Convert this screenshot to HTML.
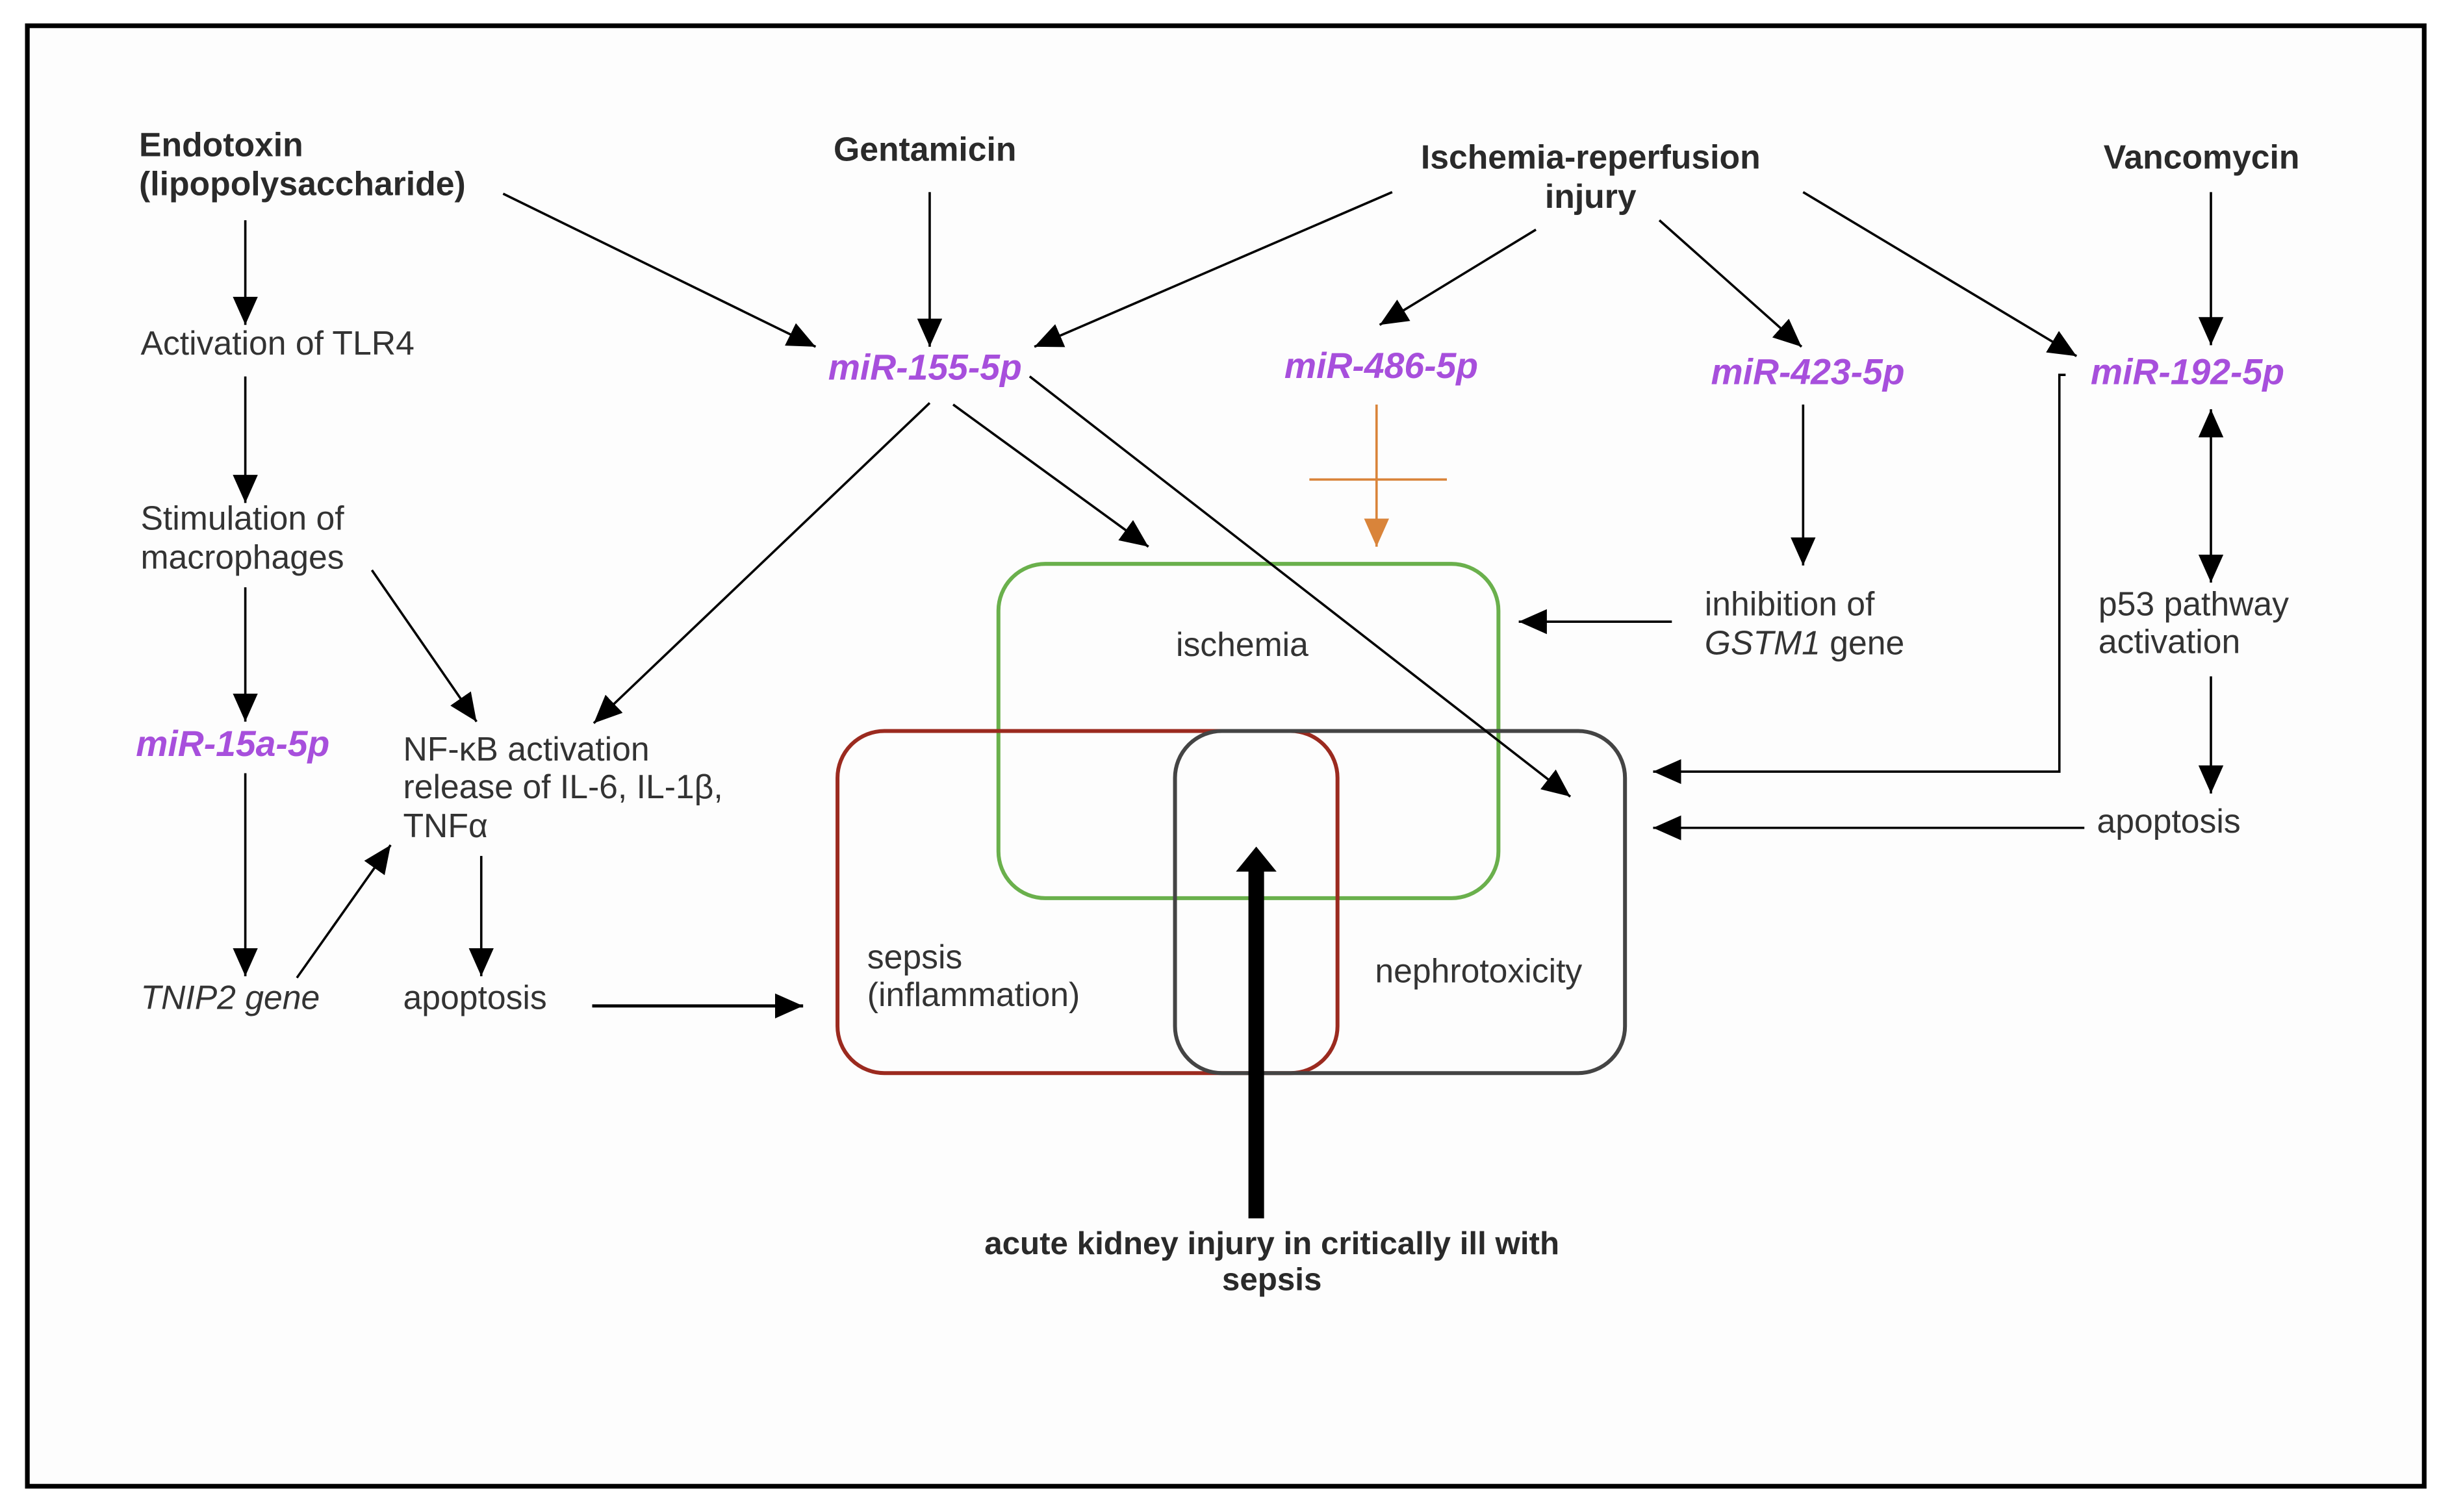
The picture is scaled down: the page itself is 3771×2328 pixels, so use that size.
<!DOCTYPE html>
<html><head><meta charset="utf-8"><style>
html,body{margin:0;padding:0;background:#fff;}
svg{display:block;}
text{font-family:"Liberation Sans",sans-serif;fill:#333;font-size:21.5px;}
.b{font-weight:bold;fill:#2a2a2a;font-size:21.5px;}
.m{font-weight:bold;font-style:italic;fill:#a74fdc;font-size:23px;}
.i{font-style:italic;}
</style></head><body>
<svg width="3771" height="2328" viewBox="0 0 1568 968" xmlns="http://www.w3.org/2000/svg">
<defs>
<marker id="a" markerUnits="userSpaceOnUse" markerWidth="20" markerHeight="16" refX="18" refY="8" orient="auto"><path d="M0,0 L18,8 L0,16 Z" fill="#000"/></marker>
<marker id="as" markerUnits="userSpaceOnUse" markerWidth="20" markerHeight="16" refX="0" refY="8" orient="auto"><path d="M18,0 L0,8 L18,16 Z" fill="#000"/></marker>
<marker id="o" markerUnits="userSpaceOnUse" markerWidth="20" markerHeight="16" refX="18" refY="8" orient="auto"><path d="M0,0 L18,8 L0,16 Z" fill="#d9843a"/></marker>
<marker id="big" markerUnits="userSpaceOnUse" markerWidth="30" markerHeight="30" refX="2" refY="13" orient="auto"><path d="M0,0 L16,13 L0,26 Z" fill="#000"/></marker>
</defs>
<rect x="0" y="0" width="1568" height="968" fill="#fff"/>
<rect x="17.5" y="16.5" width="1534" height="935" fill="#fdfdfd" stroke="#000" stroke-width="3"/>

<rect x="639" y="361" width="320" height="214" rx="30" fill="none" stroke="#6ab04c" stroke-width="2.5"/>
<rect x="536" y="468" width="320" height="219" rx="30" fill="none" stroke="#9b2a1f" stroke-width="2.5"/>
<rect x="752" y="468" width="288" height="219" rx="30" fill="none" stroke="#444" stroke-width="2.5"/>

<g stroke="#000" stroke-width="1.5" fill="none" marker-end="url(#a)">
<line x1="157" y1="141" x2="157" y2="208"/>
<line x1="157" y1="241" x2="157" y2="322"/>
<line x1="157" y1="376" x2="157" y2="462"/>
<line x1="157" y1="495" x2="157" y2="625"/>
<line x1="190" y1="626" x2="250" y2="541"/>
<line x1="238" y1="365" x2="305" y2="462"/>
<line x1="322" y1="124" x2="522" y2="222"/>
<line x1="595" y1="123" x2="595" y2="222"/>
<line x1="891" y1="123" x2="662" y2="222"/>
<line x1="595" y1="258" x2="380" y2="463"/>
<line x1="610" y1="259" x2="735" y2="350"/>
<line x1="659" y1="241" x2="1005" y2="510"/>
<line x1="983" y1="147" x2="883" y2="208"/>
<line x1="1062" y1="141" x2="1153" y2="222"/>
<line x1="1154" y1="123" x2="1329" y2="228"/>
<line x1="1415" y1="123" x2="1415" y2="221"/>
<line x1="1154" y1="259" x2="1154" y2="362"/>
<line x1="1070" y1="398" x2="972" y2="398"/>
<line x1="1415" y1="262" x2="1415" y2="373" marker-start="url(#as)" />
<line x1="1415" y1="433" x2="1415" y2="508"/>
<line x1="1334" y1="530" x2="1058" y2="530"/>
<polyline points="1322,240 1318,240 1318,494 1058,494"/>
<line x1="308" y1="548" x2="308" y2="625"/>
<line x1="379" y1="644" x2="514" y2="644" stroke-width="2"/>
</g>

<line x1="881" y1="259" x2="881" y2="350" stroke="#d9843a" stroke-width="1.5" marker-end="url(#o)"/>
<line x1="838" y1="307" x2="926" y2="307" stroke="#d9843a" stroke-width="1.5"/>

<line x1="804" y1="780" x2="804" y2="556" stroke="#000" stroke-width="10" marker-end="url(#big)"/>

<text x="89" y="100" class="b">Endotoxin</text>
<text x="89" y="125" class="b">(lipopolysaccharide)</text>
<text x="592" y="103" class="b" text-anchor="middle">Gentamicin</text>
<text x="1018" y="108" class="b" text-anchor="middle">Ischemia-reperfusion</text>
<text x="1018" y="133" class="b" text-anchor="middle">injury</text>
<text x="1409" y="108" class="b" text-anchor="middle">Vancomycin</text>

<text x="90" y="227">Activation of TLR4</text>
<text x="90" y="339">Stimulation of</text>
<text x="90" y="364">macrophages</text>
<text x="87" y="484" class="m">miR-15a-5p</text>
<text x="90" y="646" class="i">TNIP2 gene</text>
<text x="258" y="487">NF-κB activation</text>
<text x="258" y="511">release of IL-6, IL-1β,</text>
<text x="258" y="536">TNFα</text>
<text x="258" y="646">apoptosis</text>

<text x="592" y="243" class="m" text-anchor="middle">miR-155-5p</text>
<text x="884" y="242" class="m" text-anchor="middle">miR-486-5p</text>
<text x="1157" y="246" class="m" text-anchor="middle">miR-423-5p</text>
<text x="1400" y="246" class="m" text-anchor="middle">miR-192-5p</text>

<text x="1091" y="394">inhibition of</text>
<text x="1091" y="419"><tspan class="i">GSTM1</tspan> gene</text>
<text x="1343" y="394">p53 pathway</text>
<text x="1343" y="418">activation</text>
<text x="1342" y="533">apoptosis</text>

<text x="795" y="420" text-anchor="middle">ischemia</text>
<text x="555" y="620">sepsis</text>
<text x="555" y="644">(inflammation)</text>
<text x="880" y="629">nephrotoxicity</text>

<text x="814" y="803" class="b" text-anchor="middle" style="font-size:20.5px">acute kidney injury in critically ill with</text>
<text x="814" y="826" class="b" text-anchor="middle" style="font-size:20.5px">sepsis</text>
</svg>
</body></html>
